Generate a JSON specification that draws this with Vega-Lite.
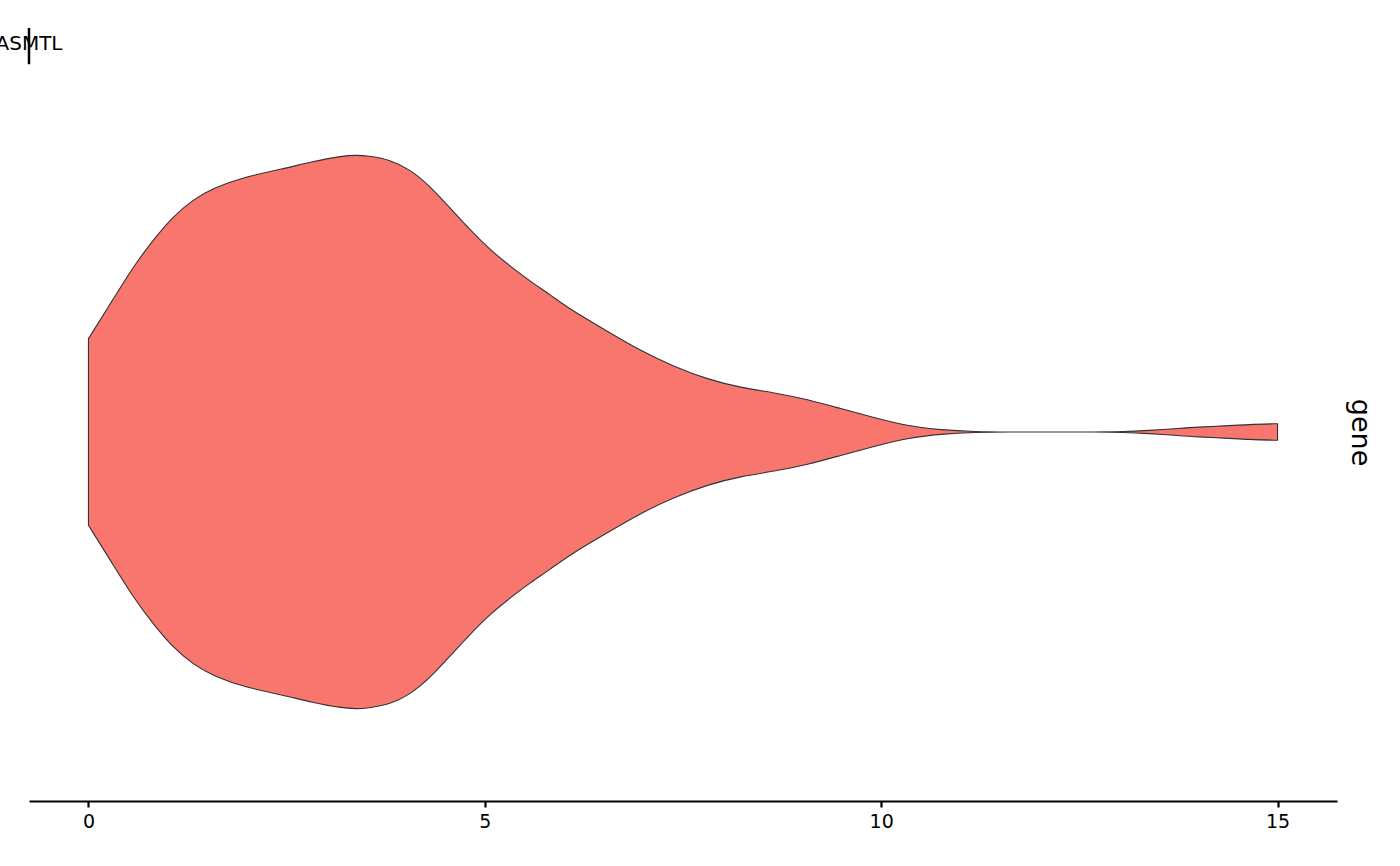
{
  "$schema": "https://vega.github.io/schema/vega-lite/v6.json",
  "width": 1308,
  "height": 738,
  "autosize": {"type": "none"},
  "padding": {"left": 29, "top": 63, "right": 63, "bottom": 65},
  "background": "white",
  "config": {"view": {"stroke": null}, "font": "DejaVu Sans"},
  "data": {
    "values": [
      {"value": 0.0, "lo": 0.8483, "hi": 1.1517},
      {"value": 0.31, "lo": 0.7844, "hi": 1.2156},
      {"value": 0.57, "lo": 0.7303, "hi": 1.2697},
      {"value": 0.82, "lo": 0.687, "hi": 1.313},
      {"value": 1.07, "lo": 0.6491, "hi": 1.3509},
      {"value": 1.32, "lo": 0.622, "hi": 1.378},
      {"value": 1.58, "lo": 0.603, "hi": 1.397},
      {"value": 2.0, "lo": 0.5841, "hi": 1.4159},
      {"value": 2.42, "lo": 0.5732, "hi": 1.4268},
      {"value": 2.84, "lo": 0.5598, "hi": 1.4402},
      {"value": 3.18, "lo": 0.5516, "hi": 1.4484},
      {"value": 3.38, "lo": 0.5495, "hi": 1.4505},
      {"value": 3.55, "lo": 0.5516, "hi": 1.4484},
      {"value": 3.8, "lo": 0.557, "hi": 1.443},
      {"value": 4.06, "lo": 0.5732, "hi": 1.4268},
      {"value": 4.31, "lo": 0.6004, "hi": 1.3996},
      {"value": 4.56, "lo": 0.6355, "hi": 1.3645},
      {"value": 4.81, "lo": 0.6707, "hi": 1.3293},
      {"value": 5.06, "lo": 0.7032, "hi": 1.2968},
      {"value": 5.32, "lo": 0.7303, "hi": 1.2697},
      {"value": 5.57, "lo": 0.7547, "hi": 1.2453},
      {"value": 5.82, "lo": 0.7763, "hi": 1.2237},
      {"value": 6.07, "lo": 0.8002, "hi": 1.1998},
      {"value": 6.54, "lo": 0.8359, "hi": 1.1641},
      {"value": 6.97, "lo": 0.8684, "hi": 1.1316},
      {"value": 7.39, "lo": 0.8938, "hi": 1.1062},
      {"value": 7.81, "lo": 0.9144, "hi": 1.0856},
      {"value": 8.23, "lo": 0.9279, "hi": 1.0721},
      {"value": 8.65, "lo": 0.936, "hi": 1.064},
      {"value": 9.07, "lo": 0.9469, "hi": 1.0531},
      {"value": 9.49, "lo": 0.962, "hi": 1.038},
      {"value": 9.91, "lo": 0.9766, "hi": 1.0234},
      {"value": 10.33, "lo": 0.9903, "hi": 1.0097},
      {"value": 10.76, "lo": 0.9968, "hi": 1.0032},
      {"value": 11.18, "lo": 0.9995, "hi": 1.0005},
      {"value": 11.6, "lo": 1.0, "hi": 1.0},
      {"value": 12.14, "lo": 1.0, "hi": 1.0},
      {"value": 12.7, "lo": 1.0, "hi": 1.0},
      {"value": 13.06, "lo": 0.9995, "hi": 1.0005},
      {"value": 13.37, "lo": 0.9975, "hi": 1.0025},
      {"value": 13.7, "lo": 0.9946, "hi": 1.0054},
      {"value": 14.0, "lo": 0.9918, "hi": 1.0082},
      {"value": 14.33, "lo": 0.9903, "hi": 1.0097},
      {"value": 14.63, "lo": 0.9877, "hi": 1.0123},
      {"value": 15.0, "lo": 0.9865, "hi": 1.0135}
    ]
  },
  "layer": [
    {
      "mark": {"type": "area", "fill": "#F8766D", "stroke": "#333333", "strokeWidth": 1.1, "interpolate": "basis", "orient": "vertical"},
      "encoding": {
        "x": {
          "field": "value", "type": "quantitative",
          "scale": {"domain": [-0.75, 15.75], "nice": false, "zero": false},
          "axis": {
            "orient": "bottom", "title": null, "values": [0, 5, 10, 15], "format": "d", "grid": false,
            "domainColor": "black", "domainWidth": 2.2, "tickColor": "black", "tickWidth": 2.2, "tickSize": 6,
            "labelColor": "black", "labelFontSize": 19, "labelPadding": 5, "labelFont": "DejaVu Sans"
          }
        },
        "y": {
          "field": "lo", "type": "quantitative",
          "scale": {"domain": [0.4, 1.6], "nice": false, "zero": false},
          "axis": {
            "orient": "right", "title": "gene", "titleAngle": 90, "titleFontSize": 27, "titleFontWeight": "normal",
            "titleColor": "black", "titleFont": "DejaVu Sans", "titlePadding": 8,
            "labels": false, "ticks": false, "domain": false, "grid": false
          }
        },
        "y2": {"field": "hi"}
      }
    },
    {
      "data": {"values": [{"label": "ASMTL"}]},
      "mark": {"type": "rule", "color": "black", "strokeWidth": 2.5},
      "encoding": {
        "x": {"datum": -0.75, "type": "quantitative"},
        "y": {"datum": 1.657, "type": "quantitative"},
        "y2": {"datum": 1.598}
      }
    },
    {
      "data": {"values": [{"label": "ASMTL"}]},
      "mark": {"type": "text", "color": "black", "fontSize": 20, "align": "center", "baseline": "middle", "font": "DejaVu Sans"},
      "encoding": {
        "x": {"datum": -0.75, "type": "quantitative"},
        "y": {"datum": 1.631, "type": "quantitative"},
        "text": {"field": "label"}
      }
    }
  ]
}
